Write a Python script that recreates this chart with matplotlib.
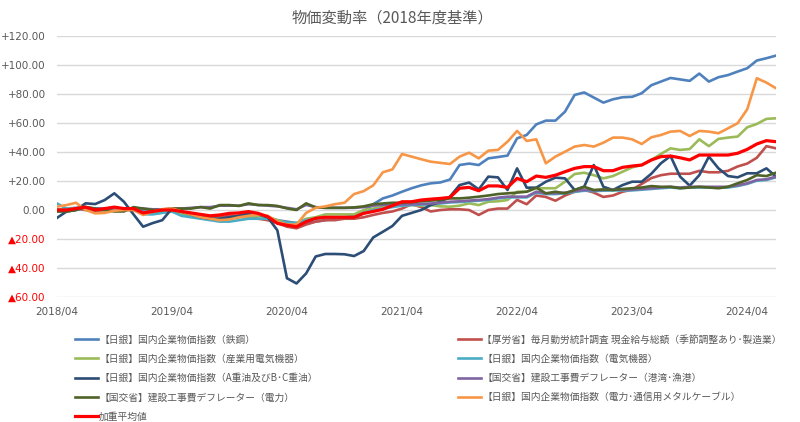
import numpy as np
import pandas as pd
import matplotlib
matplotlib.use("Agg")
import matplotlib.pyplot as plt

plt.rcParams['font.family'] = ['Noto Sans CJK JP', 'DejaVu Sans']

# 2018/04 .. 2024/07
months = pd.period_range('2018-04', periods=76, freq='M').strftime('%Y/%m').tolist()

steel = [0, 1, 1.5, 2, 1, 1, 1.5, 1, 1, -1, -1.5, -1,
         -1, -2, -3, -4, -5, -5.5, -5, -4, -3, -3, -5, -7,
         -8, -9, -9, -8, -7, -6, -5, -4, -1, 4, 8, 10,
         12.6, 15, 17, 18.4, 19, 21, 31, 32, 31, 35.6, 36.5, 37.5,
         49.4, 51.7, 59, 61.6, 61.6, 67.8, 79.3, 81, 77.5, 74, 76.3, 77.7,
         78, 80.5, 86, 88.5, 91, 90, 89, 94, 88.5, 91.5, 93, 95.4,
         97.7, 103, 104.6, 106.4]

wages = [0, 0, 1, 0, -1, 0, 1, 0, 0, -2, -1, -1,
         -1, -2, -3, -4, -5, -5, -4, -4, -5, -6, -7, -9,
         -11.5, -12.6, -10, -8, -7, -7, -6, -6, -5, -3.4, -2, -1,
         1, 4, 2, -1, 0, 0.5, 0.5, 0, -3.4, 0, 1, 1,
         7, 4, 10, 9, 6.4, 10, 12.6, 14, 12, 9, 10, 12.6,
         14, 18, 22, 24, 25, 25, 25, 27, 26, 26, 27, 30,
         32, 36, 44, 42.5]

ind_elec = [0, 1, 1, 2, 0, 0, 0, 1, 0, -2, -2, -1,
            -1, -3, -4, -5, -6, -6, -6, -5, -5, -4, -5, -7,
            -9, -9, -6, -5, -3, -3, -3, -3, 0, 1, 2, 3,
            3, 3.5, 3, 3.4, 2.5, 2.3, 3, 4.6, 3.4, 5.7, 6, 6.9,
            12.6, 12.6, 15, 15, 15, 19.5, 24.8, 25.7, 24, 21.8, 23.4, 26.4,
            29.4, 31, 34.5, 38.6, 42.5, 41.4, 42, 48.7, 44, 49, 49.9, 50.6,
            57, 59.3, 62.8, 63.2]

elec = [4.6, 1, 0.5, 1, 0, 1, 1.5, 0.5, 0, -3, -3, -2,
        -1, -4, -5, -6, -7, -8, -8, -7, -6, -6, -6, -8,
        -9, -9, -7, -6, -5, -5, -5, -5, -2, 0, 1, 2,
        3, 3.4, 3.7, 4, 4.5, 5.2, 5.5, 6, 6.4, 7, 8, 8.7,
        8.7, 8.7, 12, 11, 11, 11.5, 12.5, 13.3, 13, 13.3, 13.5, 13.5,
        13.5, 14, 14.5, 15, 15.5, 15, 15.5, 15.5, 15.5, 15.5, 15.5, 16.5,
        18, 20.2, 20.7, 22.5]

heavy_oil = [-5.5, -1.1, 0, 4.6, 4.1, 6.9, 11.5, 5.7, -3, -11.5, -9, -7,
             1, -1, -3, -5, -6, -6, -5, -4, -2.3, -3, -5, -14,
             -47, -50.6, -43.7, -32, -30.3, -30.3, -30.5, -31.7, -28.3, -18.9, -15, -11,
             -4, -2, 0, 3.4, 5.7, 9.2, 17.2, 18.9, 14.2, 23, 22.5, 13.8,
             28.7, 15.4, 15.4, 19.5, 22.3, 21.8, 13.8, 16.1, 31, 16, 13.8, 17.2,
             19.5, 19.5, 25, 32.2, 37.2, 23, 16.8, 24, 36.8, 28.7, 23.4, 22.5,
             25.3, 25.3, 28.7, 23]

port = [0, 0, 0.5, 1, 1, 0.5, 0, 0, 1, 1, 0.5, 0.5,
        1, 1, 1.5, 2, 2, 3, 3, 3, 4, 3.5, 3, 2.5,
        1.5, 0.5, 3.5, 2, 1.5, 1.5, 1.5, 1.5, 2, 3, 3.5, 3.5,
        3.8, 3.9, 4.2, 4.5, 5, 5.7, 6, 6.5, 6.9, 7.5, 8.5, 9.2,
        9.2, 9.2, 12.6, 11.5, 11.5, 12, 13, 13.8, 13.5, 13.8, 14, 14,
        14, 14.5, 15, 15.5, 16, 15.5, 16, 16, 16, 16, 16, 17,
        18.4, 20.7, 21.2, 23]

power = [-1.1, -1, 0, 2, 1, 0, -1, -1, 2, 1, 0, 0,
         1, 1, 1, 2, 1, 3.4, 3.4, 2.8, 4.6, 3.4, 3.4, 2.8,
         1.1, 0, 4.6, 1.8, 1.5, 1.5, 1.5, 1.8, 2.5, 4, 4.5, 5,
         5, 5.5, 6, 6.5, 7, 8, 8, 8.5, 9.2, 10, 11, 11.5,
         12, 12.6, 15.4, 11.5, 12.6, 11.5, 13.8, 16, 13.8, 14.2, 13.8, 14.5,
         15, 15.5, 16.5, 16, 16, 15, 15.5, 16, 15.5, 15, 16, 18.4,
         20.7, 24, 23.4, 25.7]

cable = [2.3, 3.4, 5, 0, -2.3, -2, -0.5, 0, 0, -3.4, -1.1, 0.5,
         1.1, -1, -3, -5, -6, -7, -6.5, -5, -4, -3, -4, -8,
         -10, -10, -2, 1.5, 2.5, 4, 5, 11, 13, 17, 26, 28,
         38.6, 36.8, 35, 33.3, 32.5, 31.7, 36.8, 39.5, 35.6, 40.9, 41.4, 47.1,
         54.5, 47.6, 48.7, 32.2, 36.8, 40.2, 43.7, 44.8, 43.7, 46.4, 49.9, 49.9,
         48.7, 45.5, 50.1, 51.7, 54, 54.5, 51, 54.5, 54, 52.9, 56.3, 59.8,
         69.4, 90.8, 87.8, 83.9]

weighted = [0, 0, 1, 2, 0, 1, 2, 1, 1, -2, -1, 0,
            0, -1, -2, -3, -4, -3.4, -2.3, -2, -1.1, -2.3, -4.6, -9.2,
            -10.5, -11.5, -8, -5.7, -5, -5, -5, -5, -2.3, -1, 0.5, 3,
            5.7, 5.7, 6.9, 7.5, 8, 8.7, 15, 15.6, 13.3, 16.6, 16.6, 15.6,
            21.8, 19.5, 23.4, 22.5, 24, 26.4, 28.7, 29.9, 29.9, 27.1, 27.1, 29.4,
            30.3, 31, 34.5, 36.8, 37.2, 36, 34.5, 37.9, 37.9, 37.9, 37.9, 39.1,
            41.8, 45.5, 47.8, 47.1]

series = [
    ('【日銀】国内企業物価指数（鉄鋼）', steel, '#4F81BD'),
    ('【厚労省】毎月勤労統計調査 現金給与総額（季節調整あり･製造業）', wages, '#C0504D'),
    ('【日銀】国内企業物価指数（産業用電気機器）', ind_elec, '#9BBB59'),
    ('【日銀】国内企業物価指数（電気機器）', elec, '#4BACC6'),
    ('【日銀】国内企業物価指数（A重油及びB･C重油）', heavy_oil, '#2C4D75'),
    ('【国交省】建設工事費デフレーター（港湾･漁港）', port, '#8064A2'),
    ('【国交省】建設工事費デフレーター（電力）', power, '#4F6228'),
    ('【日銀】国内企業物価指数（電力･通信用メタルケーブル）', cable, '#F79646'),
    ('加重平均値', weighted, '#FF0000'),
]

yticks = list(range(-60, 121, 20))
xticks = list(range(0, 76, 12))

fig = plt.figure(figsize=(8, 4.22), dpi=100)
ax = fig.add_axes([0.071, 0.296, 0.899, 0.619])

x = np.arange(len(months))
lines = []
for name, vals, col in series:
    lw = 2.3 if name == '加重平均値' else 1.9
    ln, = ax.plot(x, vals, color=col, lw=lw, label=name, solid_joinstyle='round')
    lines.append(ln)

ax.set_xlim(0, len(months) - 1)
ax.set_ylim(-60, 120)
ax.set_yticks(yticks)
ylabels = []
for v in yticks:
    if v > 0:
        ylabels.append(f'+{v:.2f}')
    elif v == 0:
        ylabels.append('0.00')
    else:
        ylabels.append(f'▲{-v:.2f}')
ax.set_yticklabels(ylabels, fontfamily='DejaVu Sans', fontsize=7.5)
for lab, v in zip(ax.get_yticklabels(), yticks):
    lab.set_color('#FF0000' if v < 0 else '#595959')

ax.set_xticks(xticks)
ax.set_xticklabels([months[i] for i in xticks], fontfamily='DejaVu Sans',
                   fontsize=7.5, color='#595959')
ax.tick_params(axis='both', length=0)
ax.tick_params(axis='y', pad=8)
ax.tick_params(axis='x', pad=7)

ax.grid(axis='y', color='#D9D9D9', lw=1)
ax.set_axisbelow(True)
for s in ax.spines.values():
    s.set_visible(False)

fig.text(0.49, 0.957, '物価変動率（2018年度基準）', ha='center', va='center',
         fontsize=11, color='#595959')

# 2-column legend, Excel fills it row by row
left = [lines[i] for i in (0, 2, 4, 6, 8)]
right = [lines[i] for i in (1, 3, 5, 7)]
for hs, xpos in ((left, 0.094), (right, 0.573)):
    fig.legend(hs, [h.get_label() for h in hs], loc='upper left',
               bbox_to_anchor=(xpos, 0.207), frameon=False, fontsize=7,
               labelcolor='#595959', handlelength=2.3, handletextpad=0.15,
               labelspacing=0.95, borderaxespad=0, borderpad=0)

fig.savefig('out.png', dpi=100, facecolor='white')
